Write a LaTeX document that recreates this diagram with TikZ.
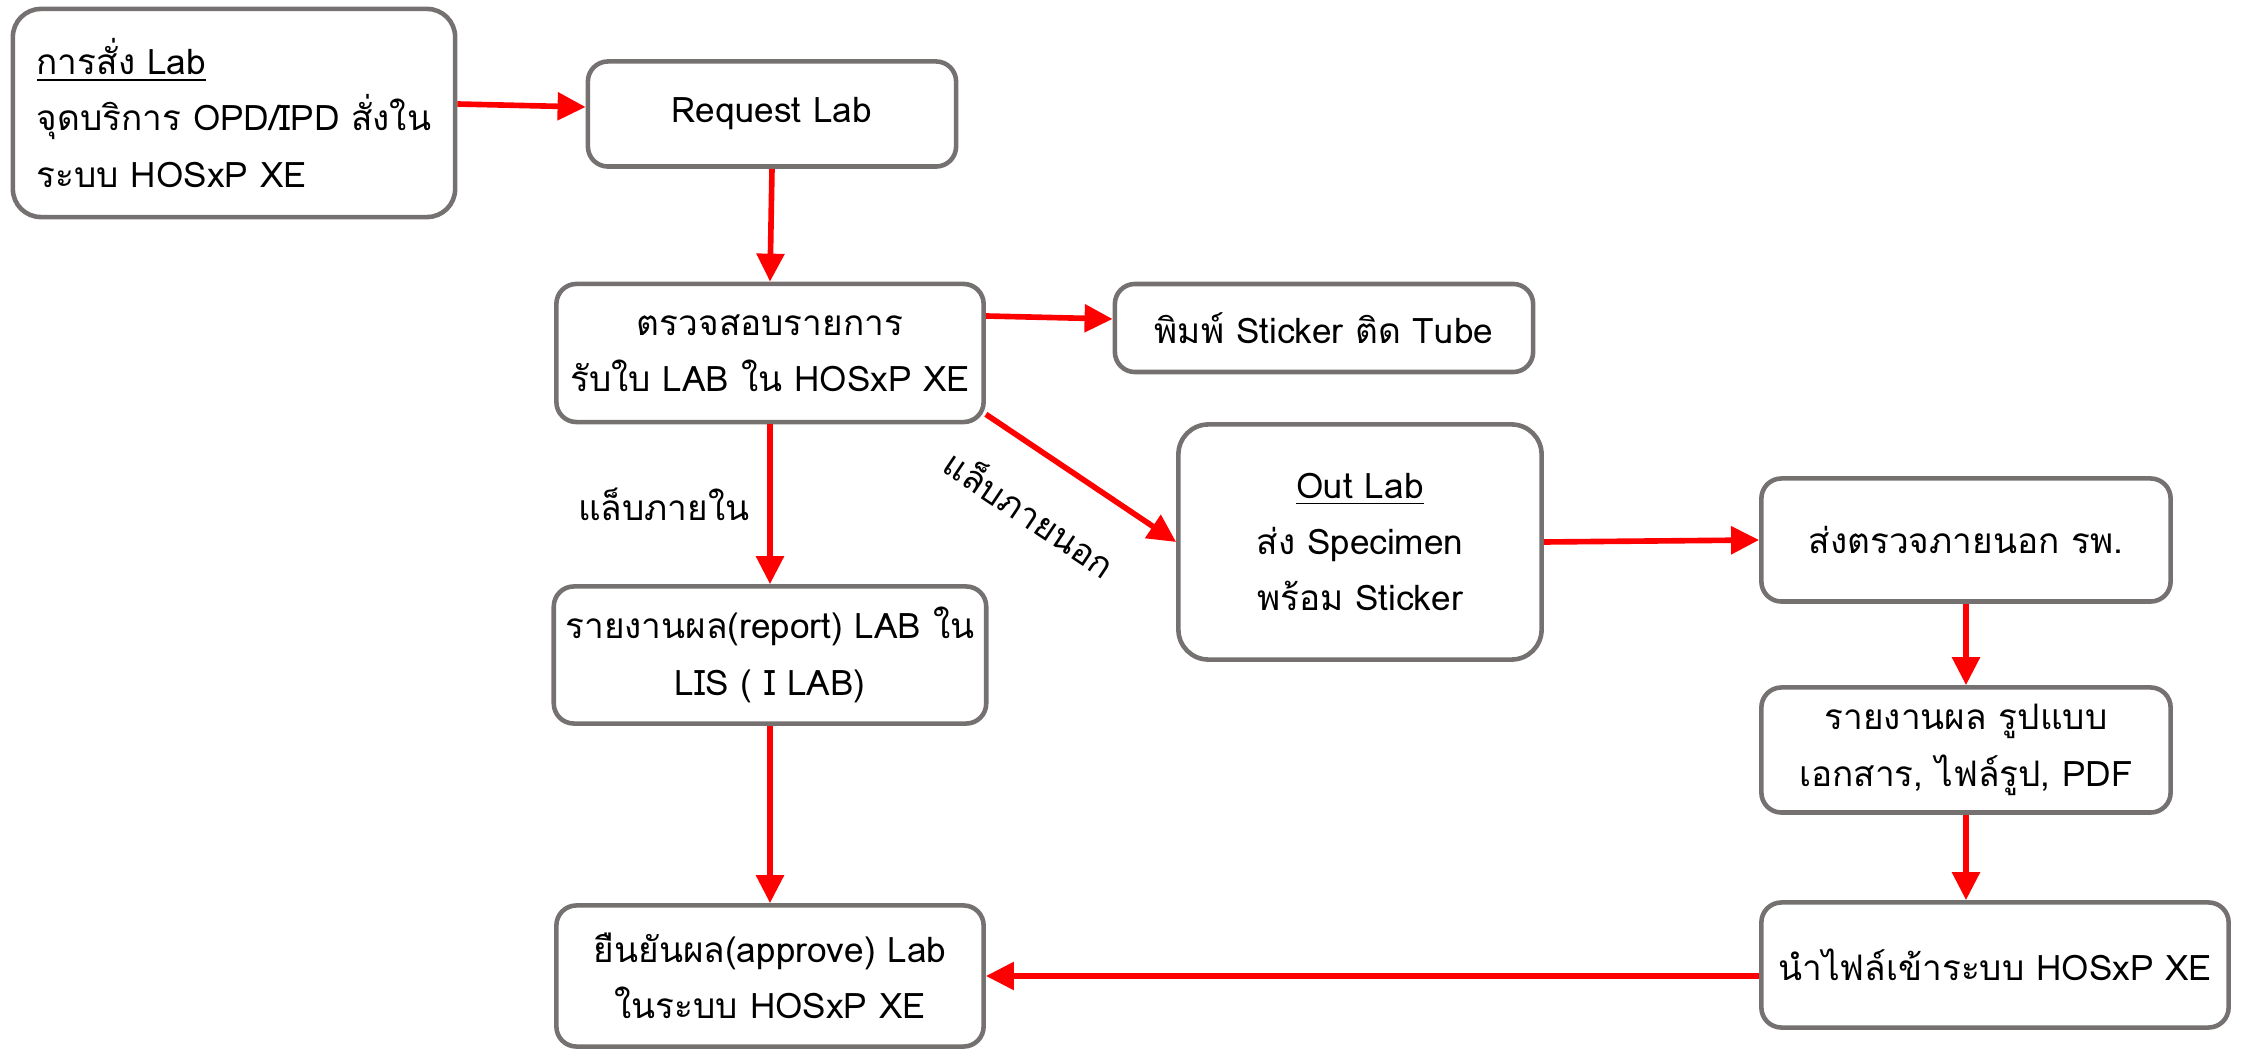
\documentclass[tikz,border=0pt]{standalone}
\usepackage{fontspec}
\newfontfamily\thaifont[Script=Thai]{Loma}
\usetikzlibrary{arrows.meta}
\definecolor{boxgray}{HTML}{767171}
\definecolor{arrred}{HTML}{FF0000}

\begin{document}
\begin{tikzpicture}[x = 0.01cm, y = -0.01cm]
        \tikzset{BoxStyle/.style =   {draw = boxgray,
            line width      = 1.3pt,
            rounded corners = 0.2cm,
            fill            = white,
            align           = center,
            font            = \thaifont\fontsize{10pt}{16pt}\selectfont},
          EdgeStyle/.style = {draw = arrred,
            line width = 1.6pt,
            -{Triangle[length=0.28cm, width=0.27cm]}},
          LabelStyle/.style = {font = \thaifont\fontsize{10pt}{16pt}\selectfont}}
        \useasboundingbox (0,0) rectangle (2241,1052);
        % left column
        \node[BoxStyle, align = left, rounded corners = 0.28cm,
              minimum width = 4.42cm, minimum height = 2.08cm] (LBa) at (234,113)
              {\underline{การสั่ง Lab}\\จุดบริการ OPD/IPD สั่งใน\\ระบบ HOSxP XE};
        \node[BoxStyle, minimum width = 3.68cm, minimum height = 1.05cm] (LBb) at (772,114) {Request Lab};
        \node[BoxStyle, minimum width = 4.27cm, minimum height = 1.38cm] (LBc) at (770,353)
              {ตรวจสอบรายการ\\รับใบ LAB ใน HOSxP XE};
        \node[BoxStyle, minimum width = 4.27cm, minimum height = 1.37cm] (LBg) at (770,655)
              {รายงานผล(report) LAB ใน\\LIS ( I LAB)};
        \node[BoxStyle, minimum width = 4.27cm, minimum height = 1.41cm] (LBi) at (770,976)
              {ยืนยันผล(approve) Lab\\ในระบบ HOSxP XE};
        % middle
        \node[BoxStyle, minimum width = 4.18cm, minimum height = 0.88cm] (LBd) at (1324,328) {พิมพ์ Sticker ติด Tube};
        \node[BoxStyle, rounded corners = 0.3cm, minimum width = 3.63cm, minimum height = 2.35cm] (LBe) at (1360,542)
              {\underline{Out Lab}\\ส่ง Specimen\\พร้อม Sticker};
        % right column
        \node[BoxStyle, minimum width = 4.09cm, minimum height = 1.23cm] (LBf) at (1966,540) {ส่งตรวจภายนอก รพ.};
        \node[BoxStyle, minimum width = 4.09cm, minimum height = 1.25cm] (LBh) at (1966,750)
              {รายงานผล รูปแบบ\\เอกสาร, ไฟล์รูป, PDF};
        \node[BoxStyle, minimum width = 4.67cm, minimum height = 1.25cm] (LBj) at (1995,965) {นำไฟล์เข้าระบบ HOSxP XE};
        % connectors
        \draw[EdgeStyle] ([yshift = 0.09cm]LBa.east) -- ([yshift = 0.07cm]LBb.west);
        \draw[EdgeStyle] (LBb.south) -- (LBc.north);
        \draw[EdgeStyle] ([yshift = 0.12cm]LBc.east |- LBd.west) -- ([yshift = 0.09cm]LBd.west);
        \draw[EdgeStyle] ([yshift = 0.1cm]LBc.south east) -- (LBe.west)
              node[LabelStyle, sloped, below = 0.25cm, pos = 0.4] {แล็บภายนอก};
        \draw[EdgeStyle] (LBc.south) -- (LBg.north)
              node[LabelStyle, midway, left = 0.06cm] {แล็บภายใน};
        \draw[EdgeStyle] (LBg.south) -- (LBi.north);
        \draw[EdgeStyle] (LBe.east) -- (LBf.west);
        \draw[EdgeStyle] (LBf.south) -- (LBh.north);
        \draw[EdgeStyle] (LBh.south) -- (LBh.south |- LBj.north);
        \draw[EdgeStyle] (LBj.west |- LBi.east) -- (LBi.east);
      \end{tikzpicture}
\end{document}
